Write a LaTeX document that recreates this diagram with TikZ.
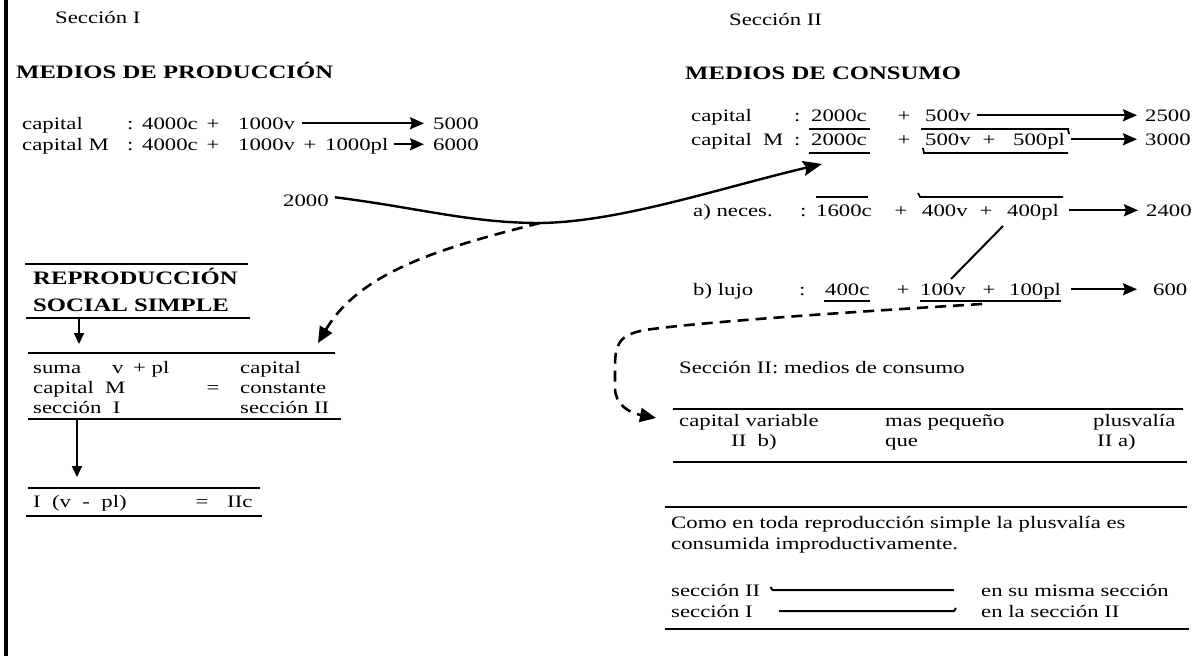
\documentclass[tikz,border=0pt]{standalone}
\usepackage{fontspec}
\setmainfont{Liberation Serif}[FakeStretch=1.3]
\usetikzlibrary{arrows.meta,calc}
\begin{document}
\begin{tikzpicture}[x=1pt,y=-1pt,
  t/.style={anchor=base west,inner sep=0pt,font=\fontsize{17.5}{20}\selectfont},
  tc/.style={anchor=base,inner sep=0pt,font=\fontsize{17.5}{20}\selectfont},
  hd/.style={anchor=base west,inner sep=0pt,font=\fontsize{19}{22}\selectfont\bfseries},
  rule/.style={line width=2.6pt},
  ul/.style={line width=1.8pt},
  rowarrow/.style={line width=2pt,shorten <=7pt,shorten >=9pt,-{Stealth[length=14pt,width=12pt,inset=2pt]}},
  downarrow/.style={line width=2pt,-{Triangle[length=11pt,width=10pt]}},
  bigarrow/.style={line width=2.4pt,-{Stealth[length=19pt,width=15pt,inset=3pt]}},
  dsh/.style={line width=2.6pt,dash pattern=on 11pt off 7pt,-{Triangle[length=16pt,width=14pt]}},
  plain/.style={line width=2pt},
]
\useasboundingbox (0,0) rectangle (1204,656);
\fill[white] (0,0) rectangle (1204,656);
% left border
\draw[line width=3.5pt] (6,0) -- (6,656);

% ---------- Section I ----------
\node[t] (s1) at (55,23) {Sección I};
\node[hd] (mp) at (16,78) {MEDIOS DE PRODUCCIÓN};

\node[t] (l1a) at (22,129) {capital};
\node[t] (l1b) at (127,129) {:};
\node[t] (l1c) at (142,129) {4000c};
\node[tc] (l1d) at (213,129) {+};
\node[t] (l1e) at (238,129) {1000v};
\node[t] (l1f) at (433,129) {5000};
\draw[rowarrow] (l1e.east |- l1f) -- (l1f);

\node[t] (l2a) at (22,150) {capital M};
\node[t] (l2b) at (127,150) {:};
\node[t] (l2c) at (142,150) {4000c};
\node[tc] (l2d) at (213,150) {+};
\node[t] (l2e) at (238,150) {1000v};
\node[tc] (l2f) at (310,150) {+};
\node[t] (l2g) at (325,150) {1000pl};
\node[t] (l2h) at (433,150) {6000};
\draw[rowarrow,shorten <=5pt] (l2g.east |- l2h) -- (l2h);

\node[t] (n2k) at (283,206) {2000};

% ---------- Reproducción social simple ----------
\draw[rule] (25,264) -- (248,264);
\node[hd] (rep1) at (33,284) {REPRODUCCIÓN};
\node[hd] (rep2) at (33,311) {SOCIAL SIMPLE};
\draw[rule] (26,318) coordinate (rb1) -- (250,318) coordinate (rb2);
\coordinate (a1s) at (79,318);
\coordinate (a1e) at (79,344);
\draw[downarrow] (a1s) -- (a1e);

\draw[rule] (28,353) coordinate (tt1) -- (335,353) coordinate (tt2);
\node[t] (ta1) at (33,373) {suma};
\node[t] (ta2) at (112,373) {v};
\node[t] (ta3) at (133,373) {+ pl};
\node[t] (ta4) at (240,373) {capital};
\node[t] (tb1) at (33,393) {capital\ \ M};
\node[tc] (tb2) at (213,393) {=};
\node[t] (tb3) at (240,393) {constante};
\node[t] (tc1) at (33,413) {sección\ \ I};
\node[t] (tc2) at (240,413) {sección II};
\draw[rule] (28,419) -- (341,419);
\coordinate (a2s) at (77,419);
\coordinate (a2e) at (77,477);
\draw[downarrow] (a2s) -- (a2e);
\draw[rule] (28,488) -- (260,488);
\node[t] (eq1) at (33,507) {I\ \ (v\ \ -\ \ pl)};
\node[tc] (eq2) at (202,507) {=};
\node[t] (eq3) at (227,507) {IIc};
\draw[rule] (26,516) -- (262,516);

% ---------- Section II ----------
\node[t] (s2) at (729,25) {Sección II};
\node[hd] (mc) at (685,79) {MEDIOS DE CONSUMO};

\node[t] (r1a) at (691,121) {capital};
\node[t] (r1b) at (794,121) {:};
\node[t] (r1c) at (811,121) {2000c};
\node[tc] (r1d) at (904,121) {+};
\node[t] (r1e) at (925,121) {500v};
\node[t] (r1f) at (1145,121) {2500};
\draw[rowarrow,shorten <=6pt,shorten >=8pt] (r1e.east |- r1f) -- (r1f);

\node[t] (r2a) at (691,145) {capital\ \ M};
\node[t] (r2b) at (794,145) {:};
\node[t] (r2c) at (811,145) {2000c};
\node[tc] (r2d) at (904,145) {+};
\node[t] (r2e) at (925,145) {500v};
\node[tc] (r2f) at (989,145) {+};
\node[t] (r2g) at (1013,145) {500pl};
\node[t] (r2h) at (1145,145) {3000};
\draw[rowarrow,shorten <=6pt,shorten >=8pt] (r2g.east |- r2h) -- (r2h);
\draw[ul] (809,129) -- (870,129);
\draw[ul] (809,153) -- (870,153);
\draw[ul] (921,129) -- (1068,129) -- (1069,134);
\draw[ul] (923,148) -- (924,153) -- (1068,153);

\node[t] (r3a) at (693,216) {a) neces.};
\node[t] (r3b) at (800,216) {:};
\node[t] (r3c) at (816,216) {1600c};
\node[tc] (r3d) at (901,216) {+};
\node[t] (r3e) at (922,216) {400v};
\node[tc] (r3f) at (986,216) {+};
\node[t] (r3g) at (1007,216) {400pl};
\node[t] (r3h) at (1146,216) {2400};
\draw[rowarrow,shorten <=10pt,shorten >=8pt] (r3g.east |- r3h) -- (r3h);
\draw[ul] (816,197) -- (868,197);
\draw[ul] (918,193) -- (920,197) -- (1063,197);

\node[t] (r4a) at (693,295) {b) lujo};
\node[t] (r4b) at (799,295) {:};
\node[t] (r4c) at (825,295) {400c};
\node[tc] (r4d) at (903,295) {+};
\node[t] (r4e) at (920,295) {100v};
\node[tc] (r4f) at (989,295) {+};
\node[t] (r4g) at (1009,295) {100pl};
\node[t] (r4h) at (1153,295) {600};
\draw[rowarrow,shorten <=10pt,shorten >=16pt] (r4g.east |- r4h) -- (r4h);
\draw[ul] (824,301) -- (870,301);
\draw[ul] (920,301) -- (1061,301);

% slash between a) and b)
\coordinate (sl1) at (1003,226);
\coordinate (sl2) at (951,279);
\draw[plain] (sl1) -- (sl2);

% 2000 curve
\coordinate (jn) at (540,223);
\coordinate (tipA) at (822,164);
\draw[bigarrow] (n2k.east) ++(6,-3) .. controls (420,208) and (470,223) .. (jn)
   .. controls (620,222) and (720,188) .. (tipA);
% dashed curve to left table
\coordinate (tipB) at (318,343);
\draw[dsh] (jn) .. controls (440,248) and (360,272) .. (tipB);

% ---------- Section II lower ----------
\coordinate (d2s) at (982,304);
\coordinate (tipC) at (656,418);
\draw[dsh] (d2s) .. controls (850,312) and (700,322) .. (645,330)
   .. controls (618,335) and (615,345) .. (615,368) -- (615,388)
   .. controls (615,405) and (630,413) .. (tipC);

\node[t] (s2m) at (679,373) {Sección II: medios de consumo};
\draw[rule] (673,409) -- (1183,409);
\node[t] (v1) at (679,426) {capital variable};
\node[t] (v2) at (885,426) {mas pequeño};
\node[t] (v3) at (1093,426) {plusvalía};
\node[t] (w1) at (731,446) {II\ \ b)};
\node[t] (w2) at (885,446) {que};
\node[t] (w3) at (1097,446) {II a)};
\draw[rule] (673,462) -- (1187,462);
\draw[rule] (665,507) -- (1187,507);
\node[t] (c1) at (671,528) {Como en toda reproducción simple la plusvalía es};
\node[t] (c2) at (671,549) {consumida improductivamente.};
\node[t] (x1) at (671,596) {sección II};
\node[t] (x2) at (981,596) {en su misma sección};
\node[t] (y1) at (671,617) {sección I};
\node[t] (y2) at (981,617) {en la sección II};
\draw[plain] (x1.east |- x2) ++(10,-3) -- ++(2,3) -- ($(x2.west)+(-27,0)$);
\draw[plain] ($(y1.west |- y2)+(108,0)$) -- ($(y2.west)+(-27,0)$) -- ++(2,-3);
\draw[rule] (665,629) -- (1189,629);
\end{tikzpicture}
\end{document}
